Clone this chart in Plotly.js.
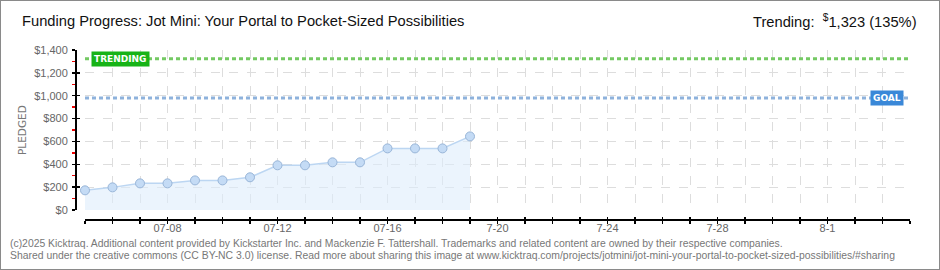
<!DOCTYPE html>
<html><head><meta charset="utf-8">
<script src="https://cdn.plot.ly/plotly-3.0.1.min.js"></script>
<style>html,body{margin:0;padding:0;background:#fff}#c{width:938px;height:268px;border:1px solid #8a8a8a}</style>
</head><body><div id="c"></div>
<script>
// ---- data ----
const dates = ['2025-07-05','2025-07-06','2025-07-07','2025-07-08','2025-07-09','2025-07-10','2025-07-11','2025-07-12','2025-07-13','2025-07-14','2025-07-15','2025-07-16','2025-07-17','2025-07-18','2025-07-19'];
const pledged = [172,198,233,233,259,259,286,391,391,417,417,539,539,539,644];
const goal = 980;
const trending = 1323;
const trendingPct = 135;
const xStart = '2025-07-05', xEnd = '2025-08-04';
const labelDates = ['2025-07-08','2025-07-12','2025-07-16','2025-07-20','2025-07-24','2025-07-28','2025-08-01'];
const labelTexts = ['07-08','07-12','07-16','7-20','7-24','7-28','8-1'];
const yTickVals = [0,200,400,600,800,1000,1200,1400];
const yTickText = ['$0','$200','$400','$600','$800','$1,000','$1,200','$1,400'];
const titleText = 'Funding Progress: Jot Mini: Your Portal to Pocket-Sized Possibilities';
const footer1 = '(c)2025 Kicktraq. Additional content provided by Kickstarter Inc. and Mackenzie F. Tattershall. Trademarks and related content are owned by their respective companies.';
const footer2 = 'Shared under the creative commons (CC BY-NC 3.0) license. Read more about sharing this image at www.kicktraq.com/projects/jotmini/jot-mini-your-portal-to-pocket-sized-possibilities/#sharing';

// ---- layout helpers ----
const W = 938, H = 268, ML = 75, MR = 29, MT = 49, MB = 49;
const PW = W - ML - MR, PH = H - MT - MB;
const px = v => (v - ML) / PW;
const py = v => (H - MB - v) / PH;

// all days for ticks
const dayVals = [], dayText = [];
{
  let d = new Date(xStart + 'T00:00:00Z'); const e = new Date(xEnd + 'T00:00:00Z');
  while (d <= e) {
    const s = d.toISOString().slice(0,10);
    dayVals.push(s);
    const i = labelDates.indexOf(s);
    dayText.push(i >= 0 ? labelTexts[i] : ' ');
    d = new Date(d.getTime() + 86400000);
  }
}

const xDomain = [9/PW, 1];
const yDomain = [10/PH, 1];
const tickFont = {family:'Liberation Sans, Arial, sans-serif', size:11, color:'#666'};
const txtFont = 'Liberation Sans, Arial, sans-serif';

const traces = [
  {x:[xStart, xEnd], y:[trending, trending], mode:'lines', line:{color:'#74c963', width:3, dash:'4px,3px'}, hoverinfo:'skip'},
  {x:[xStart, xEnd], y:[goal, goal], mode:'lines', line:{color:'#8eb2dc', width:3, dash:'4px,3px'}, hoverinfo:'skip'},
  {x:dates, y:pledged, mode:'lines+markers', fill:'tozeroy', fillcolor:'rgba(222,236,251,0.6)', cliponaxis:false,
   line:{color:'#bcd6f2', width:1.5}, marker:{size:9, color:'#c4dbf5', line:{color:'#98b5d8', width:1}}},
  {x:[], y:[], xaxis:'x2', yaxis:'y2', hoverinfo:'skip'}
];

const layout = {
  width: W, height: H, margin:{l:ML, r:MR, t:MT, b:MB, pad:0},
  paper_bgcolor:'#fff', plot_bgcolor:'#fff', showlegend:false,
  xaxis:{type:'date', range:[xStart, xEnd], domain:xDomain, anchor:'free', position:0,
    tickmode:'array', tickvals:dayVals, ticktext:dayText, ticks:'outside', ticklen:3, tickwidth:1.5, tickcolor:'#000',
    showline:true, linecolor:'#000', linewidth:2, showgrid:true, gridcolor:'#dddddd', griddash:'dash', gridwidth:1,
    tickfont:tickFont, zeroline:false, fixedrange:true, ticklabelstandoff:-5},
  xaxis2:{type:'date', range:[xStart, xEnd], domain:xDomain, anchor:'free', position:0, overlaying:'x',
    tickmode:'array', tickvals:dayVals, ticks:'inside', ticklen:3, tickwidth:1.5, tickcolor:'#000',
    showline:false, showgrid:false, showticklabels:false, zeroline:false},
  yaxis:{range:[0,1400], domain:yDomain, anchor:'free', position:0,
    tickmode:'array', tickvals:yTickVals, ticktext:yTickText, ticks:'outside', ticklen:3, tickwidth:1.5, tickcolor:'#000',
    minor:{dtick:100, tick0:0, ticks:'outside', ticklen:3, tickwidth:1.5, tickcolor:'#ee0000', showgrid:false},
    showline:true, linecolor:'#000', linewidth:2, showgrid:true, gridcolor:'#dddddd', griddash:'dash', gridwidth:1,
    tickfont:tickFont, zeroline:false, ticklabelstandoff:2, fixedrange:true},
  yaxis2:{range:[0,1400], domain:yDomain, anchor:'free', position:0, overlaying:'y',
    tickmode:'array', tickvals:yTickVals, ticks:'inside', ticklen:3, tickwidth:1.5, tickcolor:'#000',
    showline:false, showgrid:false, showticklabels:false, zeroline:false},
  annotations:[
    {xref:'paper', yref:'paper', x:px(19), y:py(20), xanchor:'left', yanchor:'middle', showarrow:false,
     text:titleText, font:{family:txtFont, size:14.7, color:'#111'}},
    {xref:'paper', yref:'paper', x:px(918), y:py(20), xanchor:'right', yanchor:'middle', showarrow:false,
     text:'Trending:  <sup>$</sup>' + trending.toLocaleString('en-US') + ' (' + trendingPct + '%)',
     font:{family:txtFont, size:14.7, color:'#111'}},
    {xref:'paper', yref:'paper', x:px(21), y:py(129), xanchor:'center', yanchor:'middle', showarrow:false, textangle:-90,
     text:'PLEDGED', font:{family:'DejaVu Sans, sans-serif', size:10.5, color:'#777'}},
    {xref:'paper', yref:'y', x:px(119), y:trending, xanchor:'center', yanchor:'middle', showarrow:false,
     text:'<b>TRENDING</b>', bgcolor:'#17b317', borderpad:2, font:{family:'DejaVu Sans, sans-serif', size:9, color:'#fff'}},
    {xref:'paper', yref:'y', x:px(886), y:goal, xanchor:'center', yanchor:'middle', showarrow:false,
     text:'<b>GOAL</b>', bgcolor:'#3a88d8', borderpad:2, font:{family:'DejaVu Sans, sans-serif', size:9, color:'#fff'}},
    {xref:'paper', yref:'paper', x:px(7), y:py(242), xanchor:'left', yanchor:'middle', showarrow:false,
     text:footer1, font:{family:txtFont, size:10.4, color:'#777'}},
    {xref:'paper', yref:'paper', x:px(7), y:py(255), xanchor:'left', yanchor:'middle', showarrow:false,
     text:footer2, font:{family:txtFont, size:10.4, color:'#777'}}
  ]
};
Plotly.newPlot('c', traces, layout, {displayModeBar:false, staticPlot:true});
</script></body></html>
